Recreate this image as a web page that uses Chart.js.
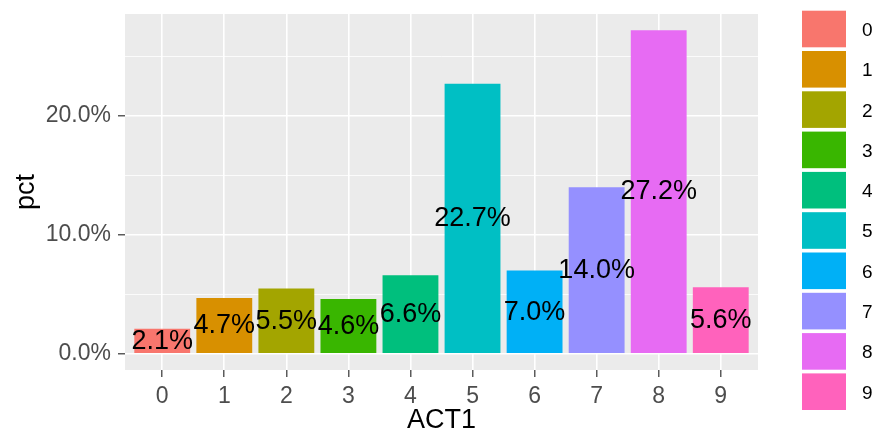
<!DOCTYPE html>
<html lang="en">
<head>
    <meta charset="UTF-8">
    <title>ACT1 pct</title>
    <script src="https://cdn.jsdelivr.net/npm/chart.js"></script>
    <style>
        body { margin: 0; background: #fff; }
        #wrap { width: 877px; height: 434px; }
    </style>
</head>
<body>
    <div id="wrap"><canvas id="myChart" width="877" height="434"></canvas></div>

    <script>
        // data
        const categories = ['0', '1', '2', '3', '4', '5', '6', '7', '8', '9'];
        const pctValues = [2.1, 4.7, 5.5, 4.6, 6.6, 22.7, 7.0, 14.0, 27.2, 5.6];
        const barColors = ['#F8766D', '#D89000', '#A3A500', '#39B600', '#00BF7D',
                           '#00BFC4', '#00B0F6', '#9590FF', '#E76BF3', '#FF62BC'];
        const yMajorTicks = [0, 10, 20];
        const yMinorTicks = [5, 15, 25];

        const FONT = '"Liberation Sans", Arial, sans-serif';
        const maxV = Math.max(...pctValues);
        const allYTicks = [...yMajorTicks, ...yMinorTicks].sort((a, b) => a - b);

        // grey panel behind the grid
        const panelBg = {
            id: 'panelBg',
            beforeDraw(chart) {
                const {ctx, chartArea: a} = chart;
                ctx.save();
                ctx.fillStyle = '#EBEBEB';
                ctx.fillRect(a.left, a.top, a.right - a.left, a.bottom - a.top);
                ctx.restore();
            }
        };

        // percentage text at half bar height
        const barLabels = {
            id: 'barLabels',
            afterDatasetsDraw(chart) {
                const {ctx} = chart;
                const meta = chart.getDatasetMeta(0);
                const y = chart.scales.y;
                ctx.save();
                ctx.font = '27px ' + FONT;
                ctx.fillStyle = '#000';
                ctx.textAlign = 'center';
                ctx.textBaseline = 'middle';
                meta.data.forEach((bar, i) => {
                    ctx.fillText(pctValues[i].toFixed(1) + '%', bar.x, y.getPixelForValue(pctValues[i] / 2));
                });
                ctx.restore();
            }
        };

        // ggplot style legend keys on the right
        const keyLegend = {
            id: 'keyLegend',
            afterDraw(chart) {
                const {ctx} = chart;
                ctx.save();
                ctx.font = '19px ' + FONT;
                ctx.textBaseline = 'middle';
                categories.forEach((c, i) => {
                    const top = 10.7 + i * 40.3;
                    ctx.fillStyle = barColors[i];
                    ctx.fillRect(802, top, 44, 36.6);
                    ctx.fillStyle = '#000';
                    ctx.fillText(c, 862, top + 20);
                });
                ctx.restore();
            }
        };

        const myChart = new Chart(document.getElementById('myChart'), {
            type: 'bar',
            data: {
                datasets: [{
                    data: categories.map((c, i) => ({x: i, y: pctValues[i]})),
                    backgroundColor: barColors,
                    borderWidth: 0,
                    barPercentage: 0.9,
                    categoryPercentage: 1
                }]
            },
            options: {
                responsive: false,
                animation: false,
                layout: { padding: { top: 14, right: 119, left: 0, bottom: 0 } },
                plugins: {
                    legend: { display: false },
                    tooltip: { enabled: false }
                },
                scales: {
                    x: {
                        type: 'linear',
                        offset: false,
                        min: -0.6,
                        max: categories.length - 1 + 0.6,
                        afterBuildTicks: (s) => { s.ticks = categories.map((c, i) => ({value: i})); },
                        afterFit: (s) => { s.height = 64; },
                        border: { display: false },
                        grid: {
                            offset: false,
                            color: '#FFFFFF',
                            lineWidth: 1.6,
                            tickLength: 7,
                            tickColor: '#333333',
                            tickWidth: 1.2
                        },
                        ticks: {
                            autoSkip: false,
                            maxRotation: 0,
                            padding: 6,
                            color: '#4D4D4D',
                            font: { family: FONT, size: 23 },
                            callback: (v, i) => categories[i]
                        },
                        title: {
                            display: true,
                            text: 'ACT1',
                            color: '#000',
                            font: { family: FONT, size: 27, lineHeight: 1 },
                            padding: { top: 0, bottom: 0 }
                        }
                    },
                    y: {
                        min: -0.05 * maxV,
                        max: 1.05 * maxV,
                        afterBuildTicks: (s) => { s.ticks = allYTicks.map(v => ({value: v})); },
                        afterFit: (s) => { s.width = 125; s.paddingTop = 0; s.paddingBottom = 0; },
                        border: { display: false },
                        grid: {
                            color: '#FFFFFF',
                            lineWidth: (c) => yMajorTicks.includes(c.tick.value) ? 1.6 : 0.8,
                            tickLength: 7,
                            tickColor: (c) => yMajorTicks.includes(c.tick.value) ? '#333333' : 'rgba(0,0,0,0)',
                            tickWidth: 1.2
                        },
                        ticks: {
                            padding: 7,
                            color: '#4D4D4D',
                            font: { family: FONT, size: 23, lineHeight: 1 },
                            callback: (v) => yMajorTicks.includes(v) ? v.toFixed(1) + '%' : ''
                        },
                        title: {
                            display: true,
                            text: 'pct',
                            color: '#000',
                            font: { family: FONT, size: 27, lineHeight: 1.2 },
                            padding: { top: 10, bottom: 0 }
                        }
                    }
                }
            },
            plugins: [panelBg, barLabels, keyLegend]
        });
    </script>
</body>
</html>
